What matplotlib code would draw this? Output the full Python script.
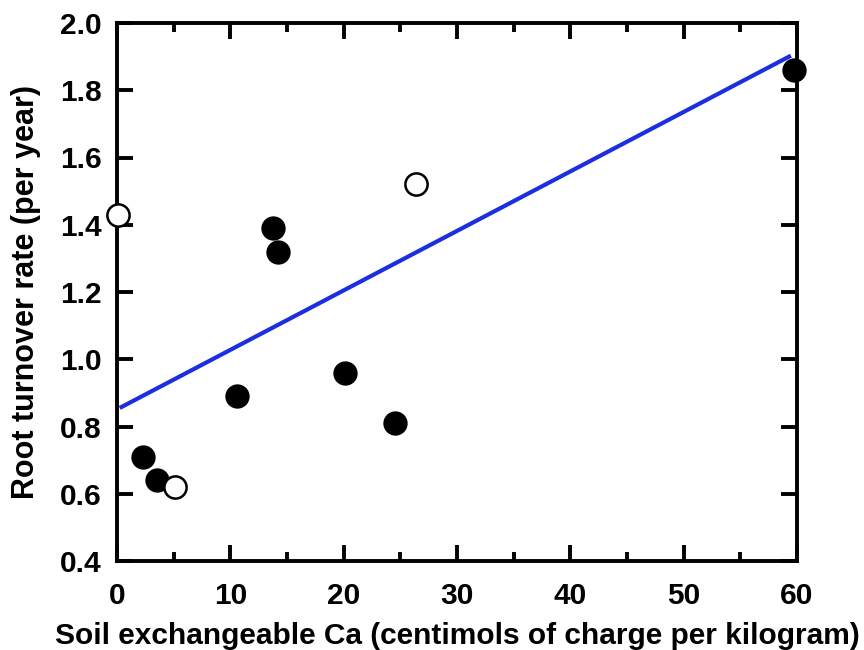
import numpy as np
import matplotlib.pyplot as plt
from matplotlib.ticker import MultipleLocator

# filled circles
ca_filled = [2.3, 3.5, 10.6, 13.8, 14.2, 20.1, 24.5, 59.7]
rt_filled = [0.71, 0.64, 0.89, 1.39, 1.32, 0.96, 0.81, 1.86]
# open circles
ca_open = [0.1, 5.1, 26.4]
rt_open = [1.43, 0.62, 1.52]
# regression line end points
fit_x = [0.4, 59.3]
fit_y = [0.858, 1.90]

plt.rcParams['font.family'] = ['Liberation Sans', 'DejaVu Sans']
plt.rcParams['font.weight'] = 'bold'

fig = plt.figure(figsize=(8.64, 6.5), dpi=100)
ax = fig.add_axes([117/864, 1 - 561/650, (797-117)/864, (561-23)/650])

ax.plot(fit_x, fit_y, color='#1b2ee0', lw=3, zorder=2)
ax.plot(ca_filled, rt_filled, 'o', ms=16, mfc='black', mec='black', mew=1.5, zorder=3, clip_on=False)
ax.plot(ca_open, rt_open, 'o', ms=16, mfc='white', mec='black', mew=1.8, zorder=3, clip_on=False)

ax.set_xlim(0, 60)
ax.set_ylim(0.4, 2.0)
ax.xaxis.set_major_locator(MultipleLocator(10))
ax.xaxis.set_minor_locator(MultipleLocator(5))
ax.yaxis.set_major_locator(MultipleLocator(0.2))
ax.yaxis.set_major_formatter(plt.FormatStrFormatter('%.1f'))

for s in ax.spines.values():
    s.set_linewidth(2.8)
ax.tick_params(which='both', direction='in', top=True, right=True, width=2.8, labelsize=21.5)
ax.tick_params(which='major', length=11.5)
ax.tick_params(which='minor', length=6.5)
ax.tick_params(axis='x', which='major', pad=15)
ax.tick_params(axis='y', which='major', pad=11)

for lab in ax.get_xticklabels() + ax.get_yticklabels():
    lab.set_fontweight('bold')

ax.set_xlabel('Soil exchangeable Ca (centimols of charge per kilogram)', fontsize=21.5, fontweight='bold', labelpad=9)
ax.set_ylabel('Root turnover rate (per year)', fontsize=22, fontweight='bold', labelpad=14)

fig.savefig('out.png', dpi=100)
